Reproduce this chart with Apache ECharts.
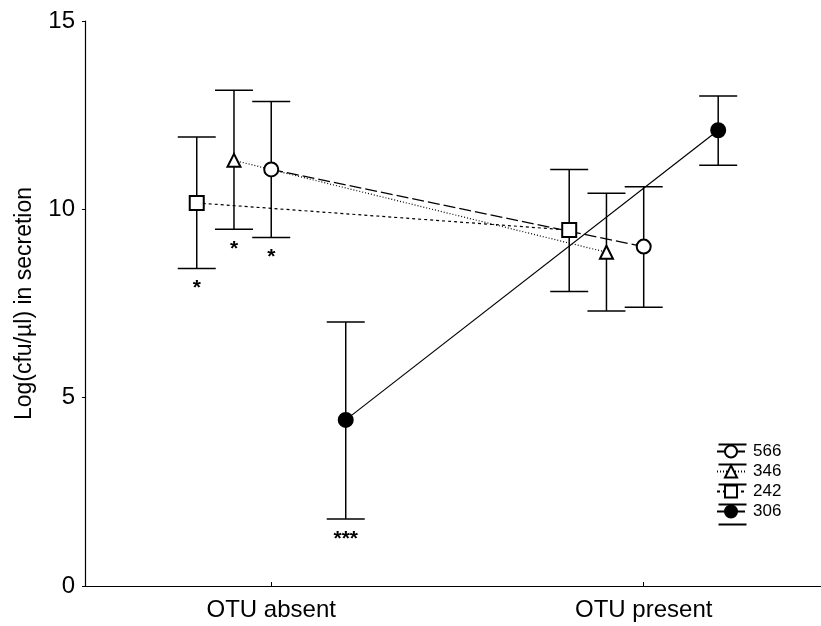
<!DOCTYPE html>
<html>
<head>
<meta charset="utf-8">
<script src="https://cdn.jsdelivr.net/npm/echarts@6/dist/echarts.min.js"></script>
<style>
  html, body { margin: 0; padding: 0; background: #fff; }
  #chart { width: 821px; height: 626px; }
</style>
</head>
<body>
<div id="chart"></div>
<script>
// groups on the x axis (1 = absent, 2 = present)
const groups = ['OTU absent', 'OTU present'];
const groupPos = [1, 2];

// strains, in legend order
const strains = ['566', '346', '242', '306'];
// horizontal offset of each strain inside a group
const offsets = [0, -0.1, -0.2, 0.2];

// means and error bar ends, [absent, present]
const mean566 = [11.06, 9.01];
const low566 = [9.25, 7.40];
const high566 = [12.86, 10.60];

const mean346 = [11.30, 8.86];
const low346 = [9.47, 7.30];
const high346 = [13.16, 10.43];

const mean242 = [10.17, 9.45];
const low242 = [8.43, 7.82];
const high242 = [11.92, 11.06];

const mean306 = [4.41, 12.10];
const low306 = [1.78, 11.17];
const high306 = [7.01, 13.01];

// significance marks under the bars
const sig566 = ['*', ''];
const sig346 = ['*', ''];
const sig242 = ['*', ''];
const sig306 = ['***', ''];

const yTicks = [0, 5, 10, 15];

const means = [mean566, mean346, mean242, mean306];
const lows = [low566, low346, low242, low306];
const highs = [high566, high346, high242, high306];
const sigs = [sig566, sig346, sig242, sig306];

// marker / line style per strain
const symbols = ['circle', 'triangle', 'rect', 'circle'];
const fills = ['#fff', '#fff', '#fff', '#000'];
const dashes = [[12, 4], [1, 2], [3, 3], 'solid'];

const font = 'Liberation Sans, Arial, sans-serif';
const chart = echarts.init(document.getElementById('chart'));

// 误差线 + 星号
function renderErrorBar(params, api) {
  const x = api.value(0);
  const top = api.coord([x, api.value(2)]);
  const bot = api.coord([x, api.value(1)]);
  const hw = 19;
  const st = { stroke: '#000', lineWidth: 1.5 };
  const children = [
    { type: 'line', shape: { x1: top[0], y1: top[1], x2: bot[0], y2: bot[1] }, style: st },
    { type: 'line', shape: { x1: top[0] - hw, y1: top[1], x2: top[0] + hw, y2: top[1] }, style: st },
    { type: 'line', shape: { x1: bot[0] - hw, y1: bot[1], x2: bot[0] + hw, y2: bot[1] }, style: st },
  ];
  const mark = errData[params.dataIndex][3];
  if (mark) {
    children.push({
      type: 'text',
      style: {
        text: mark, x: bot[0], y: bot[1] + 20,
        align: 'center', verticalAlign: 'middle',
        font: 'bold 21px ' + font, fill: '#000'
      }
    });
  }
  return { type: 'group', children };
}

const errData = [];
strains.forEach((s, i) => {
  groupPos.forEach((g, j) => {
    errData.push([g + offsets[i], lows[i][j], highs[i][j], sigs[i][j]]);
  });
});

const series = [{
  type: 'custom',
  name: 'err',
  renderItem: renderErrorBar,
  data: errData.map(d => [d[0], d[1], d[2]]),
  encode: { x: 0, y: [1, 2] },
  z: 2,
  silent: true
}];

strains.forEach((s, i) => {
  series.push({
    type: 'line',
    name: s,
    data: groupPos.map((g, j) => [g + offsets[i], means[i][j]]),
    symbol: symbols[i],
    symbolSize: symbols[i] === 'triangle' ? 13 : 14,
    showAllSymbol: true,
    lineStyle: { color: '#000', width: 1.2, type: dashes[i] },
    itemStyle: { color: fills[i], borderColor: '#000', borderWidth: 2 },
    z: 3
  });
});

const option = {
  animation: false,
  backgroundColor: '#fff',
  grid: { left: 85, right: 0, top: 21, bottom: 40 },
  legend: {
    orient: 'vertical',
    left: 716,
    top: 443,
    padding: 0,
    itemWidth: 28,
    itemHeight: 15,
    itemGap: 3,
    data: strains,
    textStyle: { fontFamily: font, fontSize: 17, color: '#000', padding: [0, 0, 0, 3] },
    itemStyle: { borderWidth: 2 },
    lineStyle: { width: 2 }
  },
  xAxis: {
    type: 'value',
    min: 0.5,
    max: 2.476,
    splitLine: { show: false },
    axisLine: { lineStyle: { color: '#000', width: 1.2 } },
    axisTick: { inside: true, length: 4, customValues: groupPos, lineStyle: { color: '#000' } },
    axisLabel: {
      customValues: groupPos,
      formatter: v => groups[groupPos.indexOf(v)] || '',
      fontFamily: font, fontSize: 24, color: '#000', margin: 12
    }
  },
  yAxis: {
    type: 'value',
    min: 0,
    max: 15,
    interval: 5,
    name: 'Log(cfu/µl) in secretion',
    nameLocation: 'middle',
    nameGap: 49,
    nameTextStyle: { fontFamily: font, fontSize: 23, color: '#000' },
    splitLine: { show: false },
    axisLine: { show: true, lineStyle: { color: '#000', width: 1.2 } },
    axisTick: { inside: false, length: 3, lineStyle: { color: '#000' } },
    axisLabel: {
      customValues: yTicks,
      fontFamily: font, fontSize: 24, color: '#000', margin: 10
    }
  },
  series
};
chart.setOption(option);

// 图例中误差线端帽
const capYs = [0, 20, 40, 60, 80];
chart.setOption({
  graphic: capYs.map(dy => ({
    type: 'line',
    left: 716, top: 442 + dy,
    shape: { x1: 0, y1: 0, x2: 28, y2: 0 },
    style: { stroke: '#000', lineWidth: 2 },
    silent: true
  }))
});
</script>
</body>
</html>
